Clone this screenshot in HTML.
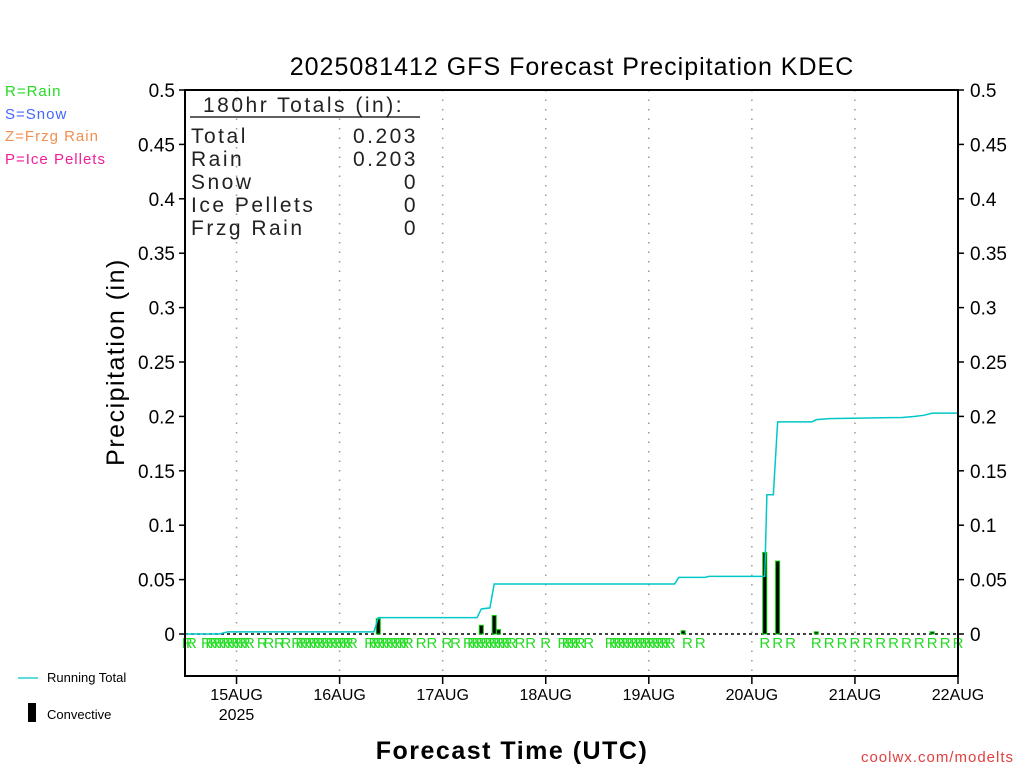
<!DOCTYPE html>
<html><head><meta charset="utf-8"><style>
body{margin:0;background:#fff;}
svg{display:block;font-family:"Liberation Sans","DejaVu Sans",sans-serif;}
</style></head><body>
<svg id="chart" width="1024" height="768" viewBox="0 0 1024 768">
<text x="572" y="75" font-size="25" text-anchor="middle" letter-spacing="1">2025081412 GFS Forecast Precipitation KDEC</text>
<g font-size="15" letter-spacing="1">
<text x="5" y="96" fill="#22dd22">R=Rain</text>
<text x="5" y="119" fill="#4466ff">S=Snow</text>
<text x="5" y="141" fill="#f09050">Z=Frzg Rain</text>
<text x="5" y="164" fill="#f0209a">P=Ice Pellets</text>
</g>
<g id="grid"></g>
<g id="marks"></g>
<g id="axes"></g>
<g font-size="21" fill="#222" letter-spacing="2.5">
<text x="203" y="112">180hr Totals (in):</text>
<line x1="190" y1="117" x2="420" y2="117" stroke="#000" stroke-width="1.2"/>
<text x="191" y="143">Total</text><text x="418" y="143" text-anchor="end">0.203</text>
<text x="191" y="166">Rain</text><text x="418" y="166" text-anchor="end">0.203</text>
<text x="191" y="189">Snow</text><text x="418" y="189" text-anchor="end">0</text>
<text x="191" y="212">Ice Pellets</text><text x="418" y="212" text-anchor="end">0</text>
<text x="191" y="235">Frzg Rain</text><text x="418" y="235" text-anchor="end">0</text>
</g>
<text x="124" y="362" font-size="25" text-anchor="middle" transform="rotate(-90 124 362)" letter-spacing="1.5">Precipitation (in)</text>
<text x="512" y="759" font-size="25" text-anchor="middle" letter-spacing="1.5" font-weight="bold">Forecast Time (UTC)</text>
<text x="1014" y="762" font-size="15" text-anchor="end" fill="#e04040" letter-spacing="1">coolwx.com/modelts</text>
<g font-size="13">
<line x1="18" y1="678" x2="38" y2="678" stroke="#00c8c8" stroke-width="1.2"/>
<text x="47" y="682">Running Total</text>
<rect x="28" y="703" width="8" height="19" fill="#000"/>
<text x="47" y="719">Convective</text>
</g>
</svg>
<script>
const dayLabels=["15AUG","16AUG","17AUG","18AUG","19AUG","20AUG","21AUG","22AUG"];
const dayHours=[12,36,60,84,108,132,156,180];
const yTicks=[0,0.05,0.1,0.15,0.2,0.25,0.3,0.35,0.4,0.45,0.5];
const yTickLabels=["0","0.05","0.1","0.15","0.2","0.25","0.3","0.35","0.4","0.45","0.5"];
const totalHours=[0,8,10,44,45,68,69,71,72,114,115,121,122,135,135.5,137,138,146,147,150,167,170,172,174,180];
const totalValues=[0,0,0.002,0.002,0.015,0.015,0.023,0.024,0.046,0.046,0.052,0.052,0.053,0.053,0.128,0.128,0.195,0.195,0.197,0.198,0.199,0.200,0.201,0.203,0.203];
const convHours=[45,69,72,73,116,135,138,147,174];
const convValues=[0.014,0.008,0.017,0.004,0.003,0.075,0.067,0.002,0.002];
const rainHours=[0.5,1.5,5,6,7,8,9,10,11,12,13,14,15,18,19.5,22,23.5,26,27,28,29,30,31,32,33,34,35,36,37,38,39,43,44,45,46,47,48,49,50,51,52,55,57.5,61,63,66,67,68,69,70,71,72,73,74,75,76,78,80.5,84,88,89,90,91,92,94,99,100,101,102,103,104,105,106,107,108,109,110,111,112,113,117,120,135,138,141,147,150,153,156,159,162,165,168,171,174,177,180];
const X0=185,X1=958,Y0=634,Y1=90,YB=676;
const xs=h=>X0+h*(X1-X0)/180;
const ys=v=>Y0-v*(Y0-Y1)/0.5;
const NS="http://www.w3.org/2000/svg";
function mk(t,a,p){const e=document.createElementNS(NS,t);for(const k in a)e.setAttribute(k,a[k]);p.appendChild(e);return e;}
const grid=document.getElementById('grid'),marks=document.getElementById('marks'),axes=document.getElementById('axes');
dayHours.forEach((h,i)=>{
 const g=mk('line',{x1:xs(h),x2:xs(h),y1:Y1,y2:YB,stroke:'#999','stroke-dasharray':'1.5 8','stroke-width':1.5},grid);
 
 
 const t=mk('line',{x1:xs(h),x2:xs(h),y1:YB,y2:YB+8,stroke:'#000','stroke-width':1.5},axes);
 
 
 const l=mk('text',{x:xs(h),y:700,'font-size':16,'text-anchor':'middle'},axes);l.textContent=dayLabels[i];
 
 
});
const yr=mk('text',{x:xs(12),y:720,'font-size':16,'text-anchor':'middle'},axes);yr.textContent="2025";


yTicks.forEach((v,i)=>{
 mk('line',{x1:X0-6,x2:X0,y1:ys(v),y2:ys(v),stroke:'#000','stroke-width':1.5},axes);
 mk('line',{x1:X1,x2:X1+6,y1:ys(v),y2:ys(v),stroke:'#000','stroke-width':1.5},axes);
 const a=mk('text',{x:X0-10,y:ys(v)+7,'font-size':19,'text-anchor':'end'},axes);a.textContent=yTickLabels[i];
 
 
 const b=mk('text',{x:X1+12,y:ys(v)+7,'font-size':19},axes);b.textContent=yTickLabels[i];
 
 
});
const fr=mk('rect',{x:X0,y:Y1,width:X1-X0,height:YB-Y1,fill:'none',stroke:'#000','stroke-width':2},axes);


const zl=mk('line',{x1:X0,x2:X1,y1:Y0,y2:Y0,stroke:'#000','stroke-width':1.5,'stroke-dasharray':'3 3'},marks);


convHours.forEach((h,i)=>{
 const r=mk('rect',{x:xs(h)-2,y:ys(convValues[i]),width:4,height:Y0-ys(convValues[i]),fill:'#000',stroke:'#00cc00','stroke-width':1},marks);
 
 
});
const pl=mk('polyline',{points:totalHours.map((h,i)=>xs(h)+','+ys(totalValues[i])).join(' '),fill:'none',stroke:'#00c8c8','stroke-width':1.5},marks);


rainHours.forEach(h=>{
 const t=mk('text',{x:xs(h),y:648,'font-size':15,'text-anchor':'middle',fill:'#22dd22'},marks);t.textContent='R';
 
 
});
</script>
</body></html>
